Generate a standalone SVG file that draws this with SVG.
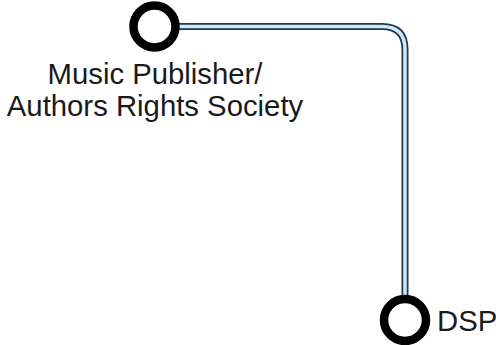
<svg xmlns="http://www.w3.org/2000/svg" width="496" height="345" viewBox="0 0 496 345">
<style>
.node{fill:#ffffff;stroke:#000000;stroke-width:8.5}
.lbl{font-family:"Liberation Sans",Arial,Helvetica,sans-serif;font-size:29.3px;fill:#1a1a1a}
.edge-out{fill:none;stroke:#1f3a52;stroke-width:7}
.edge-in{fill:none;stroke:#cfe8f7;stroke-width:3.5}
</style>
<rect width="496" height="345" fill="#ffffff"/>
<g id="connectors">
<path class="edge-out" d="M176 26.5 H382 Q405 26.5 405 49.5 V300"/>
<path class="edge-in" d="M176 26.5 H382 Q405 26.5 405 49.5 V300"/>
</g>
<g id="node-publisher">
<circle class="node" cx="154.5" cy="26.5" r="21"/>
<text class="lbl" x="155" y="84" text-anchor="middle">Music Publisher/</text>
<text class="lbl" x="155" y="116" text-anchor="middle">Authors Rights Society</text>
</g>
<g id="node-dsp">
<circle class="node" cx="405" cy="320" r="21"/>
<text class="lbl" x="437" y="331" font-size="27">DSP</text>
</g>
</svg>
